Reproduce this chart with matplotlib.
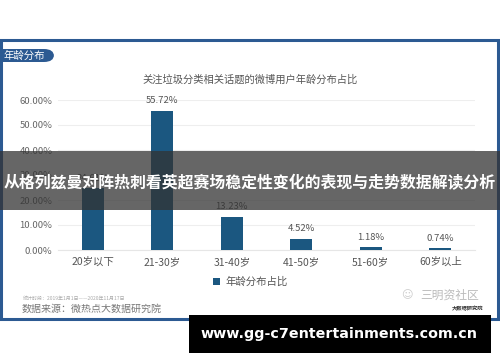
import matplotlib
matplotlib.use("Agg")
import matplotlib.pyplot as plt
from matplotlib.patches import Rectangle, FancyBboxPatch

plt.rcParams['font.family'] = ['Noto Sans CJK SC', 'DejaVu Sans']

# ---------------- DATA ----------------
categories = ["20岁以下", "21-30岁", "31-40岁", "41-50岁", "51-60岁", "60岁以上"]
shares = [24.61, 55.72, 13.23, 4.52, 1.18, 0.74]   # percent
y_ticks = [0, 10, 20, 30, 40, 50, 60]
chart_title = "关注垃圾分类相关话题的微博用户年龄分布占比"
series_name = "年龄分布占比"
tab_label = "年龄分布"
period_note = "统计时段：2019年1月1日——2020年11月17日"
source_note = "数据来源：微热点大数据研究院"
banner_text = "从格列兹曼对阵热刺看英超赛场稳定性变化的表现与走势数据解读分析"
site_text = "www.gg-c7entertainments.com.cn"
# --------------------------------------

W, H = 500, 362
BAR_COLOR = "#1b5780"
FRAME_COLOR = "#2c5a92"


def fx(x):
    return x / W


def fy(y):
    return 1 - y / H


fig = plt.figure(figsize=(5, 3.62), dpi=100)
fig.patch.set_facecolor("white")

# outer frame of the card
fig.patches.append(Rectangle((fx(1), fy(319)), fx(497), 279 / H, transform=fig.transFigure,
                             fill=False, edgecolor=FRAME_COLOR, linewidth=2.2, zorder=1))

# tab in top-left corner
fig.patches.append(FancyBboxPatch((fx(-8), fy(62)), fx(62), 13 / H,
                                  boxstyle="round,pad=0,rounding_size=0.02",
                                  transform=fig.transFigure, facecolor=FRAME_COLOR,
                                  edgecolor="none", zorder=2))
fig.text(fx(3), fy(55.5), tab_label, color="white", fontsize=7.5, va="center", ha="left")

# chart title
fig.text(fx(250), fy(80), chart_title, color="#555555", fontsize=7.4, ha="center", va="center")

# main axes
ax = fig.add_axes([fx(58), fy(250), fx(475) - fx(58), 150 / H])
x = range(len(categories))
bars = ax.bar(x, shares, width=0.31, color=BAR_COLOR, label=series_name, zorder=3)
for xi, v in zip(x, shares):
    ax.text(xi, v + 2.2, f"{v:.2f}%", ha="center", va="bottom", fontsize=6.8, color="#555555")

ax.set_ylim(0, 60)
ax.set_xlim(-0.5, len(categories) - 0.5)
ax.set_yticks(y_ticks)
ax.set_yticklabels([f"{t:.2f}%" for t in y_ticks])
ax.set_xticks(list(x))
ax.set_xticklabels(categories)
ax.tick_params(axis="y", length=0, labelsize=6.8, labelcolor="#666666", pad=4)
ax.tick_params(axis="x", length=0, labelsize=7.5, labelcolor="#555555", pad=5)
ax.grid(axis="y", color="#eeeeee", linewidth=0.8, zorder=0)
for s in ["top", "right", "left"]:
    ax.spines[s].set_visible(False)
ax.spines["bottom"].set_color("#e6e6e6")

fig.legend(handles=[bars], labels=[series_name], loc="center",
           bbox_to_anchor=(fx(250), fy(282)), frameon=False, fontsize=7.5,
           handlelength=0.7, handleheight=0.7, handletextpad=0.5, labelcolor="#555555")

# footer notes
fig.text(fx(23), fy(298), period_note, fontsize=3.6, color="#aaaaaa", ha="left", va="center")
fig.text(fx(22), fy(308.5), source_note, fontsize=7.2, color="#777777", ha="left", va="center")

# watermark logo
fig.text(fx(420), fy(295), "三明资社区", fontsize=8.5, color="#bbbbbb", ha="left", va="center")
fig.text(fx(401), fy(295), "☺", fontsize=8, color="#cccccc", ha="left", va="center",
         family=["DejaVu Sans"])
fig.text(fx(483), fy(309), "大数据研究院", fontsize=3.8, color="#333333", ha="right", va="center",
         weight="bold")

# overlay banner across the middle
fig.patches.append(Rectangle((0, fy(210)), 1, 59 / H, transform=fig.transFigure,
                             facecolor="#333333", alpha=0.75, edgecolor="none", zorder=10))
fig.text(0.5, fy(183), banner_text, color="white", fontsize=11.45, weight="bold",
         ha="center", va="center", zorder=11)

# black site box at the bottom
fig.patches.append(Rectangle((fx(189), fy(353)), fx(302), 38 / H, transform=fig.transFigure,
                             facecolor="black", edgecolor="none", zorder=10))
fig.text(fx(339), fy(334), site_text, color="white", fontsize=10.3, weight="bold",
         family=["DejaVu Sans"], ha="center", va="center", zorder=11)

fig.savefig("out.png", dpi=100)
